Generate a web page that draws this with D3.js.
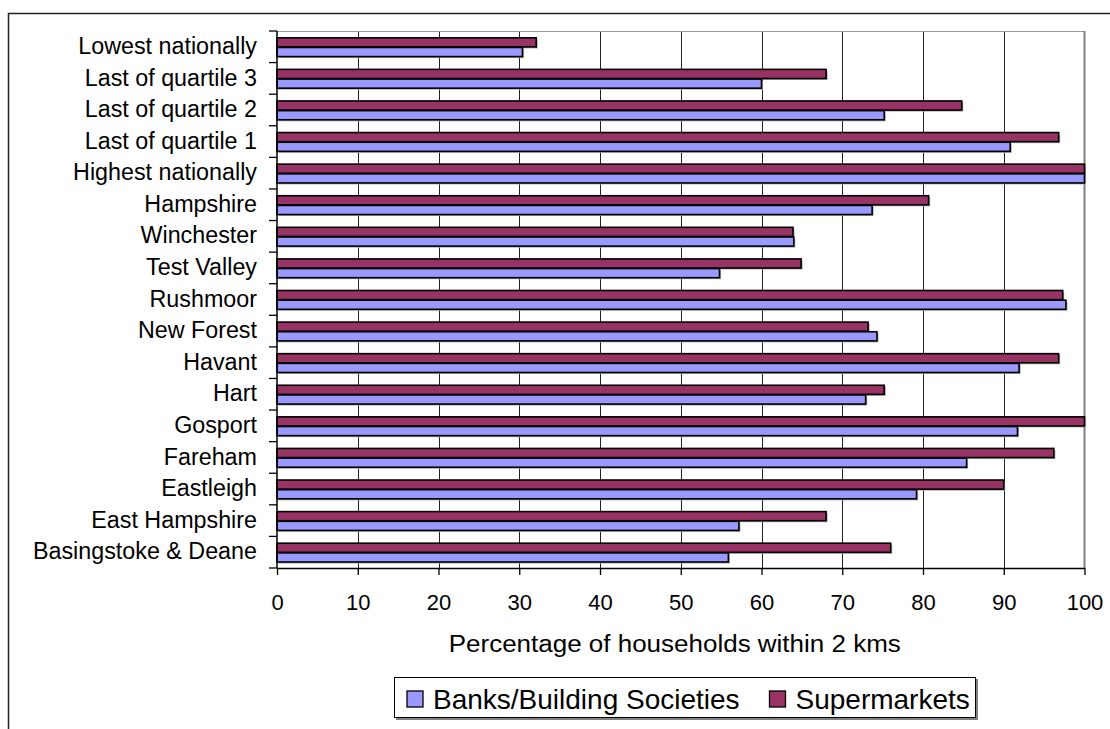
<!DOCTYPE html>
<html>
<head>
<meta charset="utf-8">
<script src="https://cdn.jsdelivr.net/npm/d3@7"></script>
<style>
  html, body { margin: 0; padding: 0; background: #fff; }
  svg { display: block; font-family: "Liberation Sans", Arial, sans-serif; }
</style>
</head>
<body>
<svg id="chart" width="1110" height="729"></svg>
<script>
const categories = [
  "Lowest nationally", "Last of quartile 3", "Last of quartile 2", "Last of quartile 1",
  "Highest nationally", "Hampshire", "Winchester", "Test Valley", "Rushmoor",
  "New Forest", "Havant", "Hart", "Gosport", "Fareham", "Eastleigh",
  "East Hampshire", "Basingstoke & Deane"
];
const banks = [30.4, 60, 75.2, 90.8, 100, 73.7, 64, 54.8, 97.7, 74.3, 91.9, 72.9, 91.7, 85.4, 79.2, 57.2, 55.9];
const supermarkets = [32.1, 68, 84.8, 96.8, 100, 80.7, 63.9, 64.9, 97.3, 73.2, 96.8, 75.2, 100, 96.2, 90, 68, 76];
const seriesNames = ["Banks/Building Societies", "Supermarkets"];
const seriesColors = ["#9999FF", "#993366"];
const xTicks = [0, 10, 20, 30, 40, 50, 60, 70, 80, 90, 100];
const xTitle = "Percentage of households within 2 kms";

const svg = d3.select("#chart");

// outer chart frame (cropped at right/bottom)
svg.append("path")
  .attr("d", "M8.5,729 L8.5,13.5 L1110,13.5")
  .attr("fill", "none").attr("stroke", "#222").attr("stroke-width", 1.5);

const plot = { left: 277, right: 1084.5, top: 31, bottom: 568 };

const x = d3.scaleLinear().domain([0, 100]).range([plot.left, plot.right]);
const y = d3.scaleBand().domain(categories).range([plot.top, plot.bottom]).padding(0);
// within-band positions: supermarkets on top, banks below
const sub = d3.scaleBand().domain(["super", "banks"])
  .range([y.bandwidth() * 0.215, y.bandwidth() * 0.81]).paddingInner(0.06);

// gridlines
svg.append("g").selectAll("line").data(xTicks.slice(1, -1)).join("line")
  .attr("x1", d => Math.round(x(d)) + 0.5).attr("x2", d => Math.round(x(d)) + 0.5)
  .attr("y1", plot.top).attr("y2", plot.bottom)
  .attr("stroke", "#222").attr("stroke-width", 1);

// plot area border top and right (gray)
svg.append("line").attr("x1", plot.left).attr("x2", plot.right)
  .attr("y1", plot.top + 0.5).attr("y2", plot.top + 0.5)
  .attr("stroke", "#999").attr("stroke-width", 1);
svg.append("line").attr("x1", plot.right).attr("x2", plot.right)
  .attr("y1", plot.top).attr("y2", plot.bottom)
  .attr("stroke", "#808080").attr("stroke-width", 2);

// bars
const rows = categories.map((c, i) => ({ c, banks: banks[i], super: supermarkets[i] }));
const barSpecs = [
  { key: "super", color: seriesColors[1] },
  { key: "banks", color: seriesColors[0] }
];
const gBars = svg.append("g");
barSpecs.forEach(s => {
  gBars.append("g").selectAll("rect").data(rows).join("rect")
    .attr("x", x(0) + 1.5)
    .attr("y", d => y(d.c) + sub(s.key) + 1.5)
    .attr("width", d => x(d[s.key]) - x(0))
    .attr("height", sub.bandwidth())
    .attr("fill", "#a8a8a8");
});
barSpecs.forEach(s => {
  gBars.append("g").selectAll("rect").data(rows).join("rect")
    .attr("x", x(0))
    .attr("y", d => y(d.c) + sub(s.key))
    .attr("width", d => x(d[s.key]) - x(0))
    .attr("height", sub.bandwidth())
    .attr("fill", s.color)
    .attr("stroke", "#000").attr("stroke-width", 1.6);
});

// x axis
const xAxis = svg.append("g")
  .attr("transform", `translate(0,${plot.bottom})`)
  .call(d3.axisBottom(x).tickValues(xTicks).tickSize(7).tickPadding(19).tickSizeOuter(0));
xAxis.select(".domain").attr("stroke", "#000").attr("stroke-width", 1.5);
xAxis.selectAll(".tick line").attr("stroke", "#000").attr("stroke-width", 1.3);
xAxis.selectAll("text").attr("font-size", 22).attr("fill", "#000")
  .attr("font-family", "Liberation Sans, Arial, sans-serif");

// y axis (ticks at category boundaries)
const yAxis = svg.append("g").attr("transform", `translate(${plot.left},0)`);
yAxis.append("line").attr("x1", 0).attr("x2", 0).attr("y1", plot.top).attr("y2", plot.bottom)
  .attr("stroke", "#000").attr("stroke-width", 1.5);
const boundaries = categories.map(c => y(c)).concat([plot.bottom]);
yAxis.selectAll("line.tk").data(boundaries).join("line").attr("class", "tk")
  .attr("x1", -8).attr("x2", 0).attr("y1", d => d).attr("y2", d => d)
  .attr("stroke", "#000").attr("stroke-width", 1.3);
yAxis.selectAll("text").data(categories).join("text")
  .attr("x", -20).attr("y", d => y(d) + y.bandwidth() / 2 - 1)
  .attr("dy", "0.35em").attr("text-anchor", "end")
  .attr("font-size", 23.3).attr("fill", "#000").text(d => d);

// x axis title (slightly widened as in the reference)
const titleCx = (plot.left + plot.right) / 2 - 6;
svg.append("text")
  .attr("transform", `translate(${titleCx},644) scale(1.13,1)`)
  .attr("dy", "0.35em").attr("text-anchor", "middle")
  .attr("font-size", 23).attr("fill", "#000").text(xTitle);

// legend
const legend = svg.append("g");
legend.append("rect").attr("x", 396).attr("y", 679).attr("width", 582).attr("height", 41).attr("fill", "#808080");
legend.append("rect").attr("x", 394.5).attr("y", 677.5).attr("width", 581).attr("height", 40)
  .attr("fill", "#fff").attr("stroke", "#000").attr("stroke-width", 1);
const legendX = [407, 769.5];
seriesNames.forEach((name, i) => {
  legend.append("rect").attr("x", legendX[i]).attr("y", 691).attr("width", 16).attr("height", 16)
    .attr("fill", seriesColors[i]).attr("stroke", "#000").attr("stroke-width", 1.3);
  legend.append("text").attr("x", legendX[i] + 26).attr("y", 699)
    .attr("dy", "0.35em").attr("font-size", 28).attr("fill", "#000").text(name);
});
</script>
</body>
</html>
